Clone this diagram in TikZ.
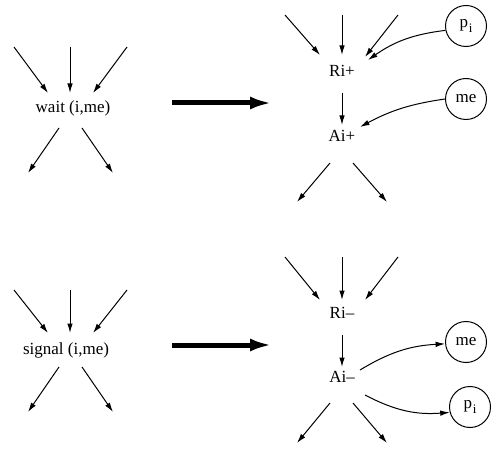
\documentclass[tikz,border=0pt]{standalone}
\usepackage{fontspec}
\setmainfont{Liberation Serif}
\usetikzlibrary{arrows.meta}

\newcommand{\pisub}{p\kern0.6pt\raisebox{-5pt}{\fontsize{13}{13}\selectfont i}}

\begin{document}
\begin{tikzpicture}[x=1pt,y=-1pt,
  lbl/.style={anchor=base,inner sep=0pt,font=\fontsize{17}{19}\selectfont},
  proc/.style={circle,draw,line width=1pt,minimum size=41pt,inner sep=0pt,
               font=\fontsize{17}{19}\selectfont},
  arr/.style={line width=1pt,-{Latex[length=9.5pt,width=5.5pt]}},
  bigarr/.style={line width=5pt,-{Latex[length=22pt,width=13pt]}}
]
\useasboundingbox (0,0) rectangle (492,454);

% ---------- wait (i,me) ----------
\node[lbl] (w) at (73,113) {wait (i,me)};
\coordinate (wi1) at (14,47);  \coordinate (wh1) at (48,93);
\coordinate (wi2) at (70,47);  \coordinate (wh2) at (70,93);
\coordinate (wi3) at (127,47); \coordinate (wh3) at (93,93);
\coordinate (wt1) at (59,128); \coordinate (wo1) at (28,173);
\coordinate (wt2) at (82,128); \coordinate (wo2) at (113,173);
\draw[arr] (wi1) -- (wh1);
\draw[arr] (wi2) -- (wh2);
\draw[arr] (wi3) -- (wh3);
\draw[arr] (wt1) -- (wo1);
\draw[arr] (wt2) -- (wo2);

% ---------- refinement arrow (top) ----------
\coordinate (ta1) at (172,103); \coordinate (ta2) at (272,103);
\draw[bigarr] (ta1) -- (ta2);

% ---------- Ri+ / Ai+ ----------
\node[lbl] (rp) at (342,77) {Ri+};
\node[lbl] (ap) at (342,142) {Ai+};
\node[proc] (pi1) at (466,26) {\pisub};
\node[proc] (me1) at (466,99) {me};
\coordinate (ri1) at (285,15);  \coordinate (rh1) at (320,55);
\coordinate (ri2) at (342,15);  \coordinate (rh2) at (342,55);
\coordinate (ri3) at (398,15);  \coordinate (rh3) at (365,57);
\coordinate (rpb) at (342,93);  \coordinate (apt) at (342,125);
\coordinate (pih) at (368,60);  \coordinate (meh) at (360,127);
\coordinate (at1) at (330,163); \coordinate (ao1) at (297,202);
\coordinate (at2) at (353,163); \coordinate (ao2) at (387,202);
\draw[arr] (ri1) -- (rh1);
\draw[arr] (ri2) -- (rh2);
\draw[arr] (ri3) -- (rh3);
\draw[arr] (rpb) -- (apt);
\draw[arr] (pi1.192) to[bend right=14] (pih);
\draw[arr] (me1.180) to[bend right=10] (meh);
\draw[arr] (at1) -- (ao1);
\draw[arr] (at2) -- (ao2);

% ---------- signal (i,me) ----------
\node[lbl] (s) at (66,354) {signal (i,me)};
\coordinate (si1) at (14,290);  \coordinate (sh1) at (48,333);
\coordinate (si2) at (70,290);  \coordinate (sh2) at (70,333);
\coordinate (si3) at (127,290); \coordinate (sh3) at (93,333);
\coordinate (st1) at (59,367);  \coordinate (so1) at (28,412);
\coordinate (st2) at (82,367);  \coordinate (so2) at (113,412);
\draw[arr] (si1) -- (sh1);
\draw[arr] (si2) -- (sh2);
\draw[arr] (si3) -- (sh3);
\draw[arr] (st1) -- (so1);
\draw[arr] (st2) -- (so2);

% ---------- refinement arrow (bottom) ----------
\coordinate (tb1) at (172,345); \coordinate (tb2) at (272,345);
\draw[bigarr] (tb1) -- (tb2);

% ---------- Ri- / Ai- ----------
\node[lbl] (rm) at (342,318) {Ri–};
\node[lbl] (am) at (342,382) {Ai–};
\node[proc] (me2) at (466,342) {me};
\node[proc] (pi2) at (470,407) {\pisub};
\coordinate (qi1) at (285,257);  \coordinate (qh1) at (320,300);
\coordinate (qi2) at (342,257);  \coordinate (qh2) at (342,300);
\coordinate (qi3) at (398,257);  \coordinate (qh3) at (365,300);
\coordinate (rmb) at (342,335);  \coordinate (amt) at (342,367);
\coordinate (amr1) at (360,370); \coordinate (amr2) at (365,395);
\coordinate (bt1) at (330,403);  \coordinate (bo1) at (297,443);
\coordinate (bt2) at (353,403);  \coordinate (bo2) at (387,443);
\draw[arr] (qi1) -- (qh1);
\draw[arr] (qi2) -- (qh2);
\draw[arr] (qi3) -- (qh3);
\draw[arr] (rmb) -- (amt);
\draw[arr] (amr1) to[bend left=14] (me2.185);
\draw[arr] (amr2) to[bend right=16] (pi2.195);
\draw[arr] (bt1) -- (bo1);
\draw[arr] (bt2) -- (bo2);
\end{tikzpicture}
\end{document}
